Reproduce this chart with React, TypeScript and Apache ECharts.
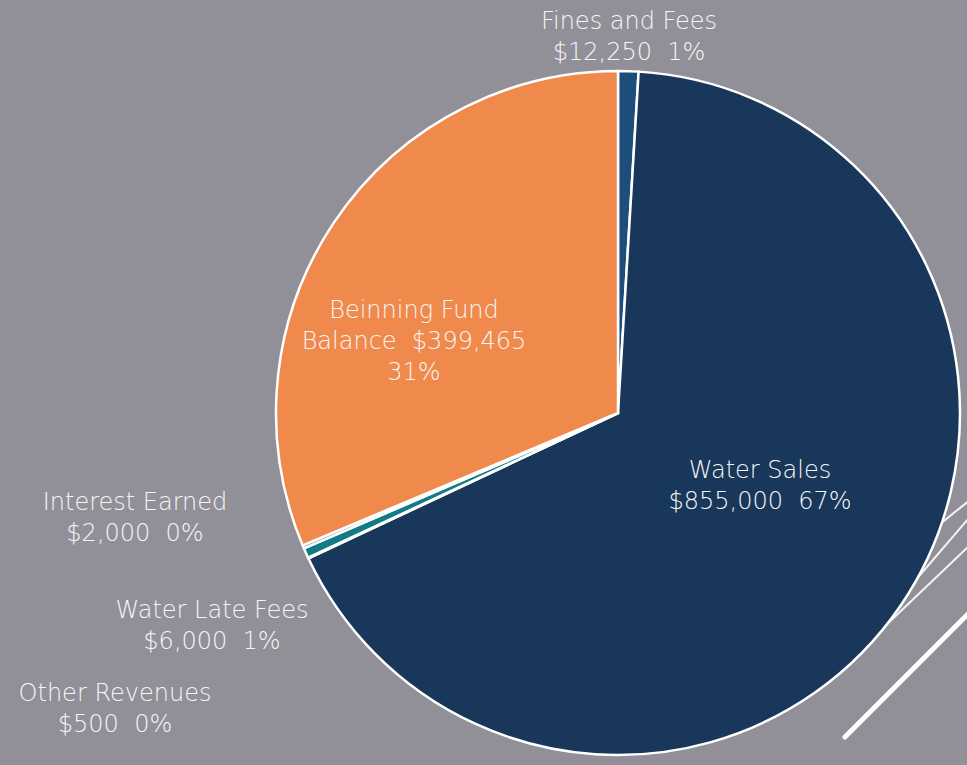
import React, { useEffect, useRef } from "react";
import * as echarts from "echarts";

const categories = [
  "Fines and Fees",
  "Water Sales",
  "Other Revenues",
  "Water Late Fees",
  "Interest Earned",
  "Beinning Fund Balance",
];
const values = [12250, 855000, 500, 6000, 2000, 399465];
const percentLabels = ["1%", "67%", "0%", "1%", "0%", "31%"];

const colors = ["#1d4d7a", "#19375a", "#4a6f8f", "#127b85", "#6e9bb0", "#f0894c"];

// label block centres (layout, not data)
const labelCenters: Record<string, [number, number]> = {
  "Fines and Fees": [629, 36],
  "Water Sales": [760, 485],
  "Other Revenues": [115, 708],
  "Water Late Fees": [212, 625],
  "Interest Earned": [135, 517],
  "Beinning Fund Balance": [414, 341],
};

function fmtMoney(v: number) {
  return "$" + v.toLocaleString("en-US");
}

function labelText(i: number) {
  const name = categories[i];
  const v = fmtMoney(values[i]);
  const p = percentLabels[i];
  if (name === "Beinning Fund Balance") {
    return "Beinning Fund\nBalance  " + v + "\n" + p;
  }
  return name + "\n" + v + "  " + p;
}

export default function App() {
  const ref = useRef<HTMLDivElement>(null);
  useEffect(() => {
    if (!ref.current) return;
    const chart = echarts.init(ref.current, undefined, { renderer: "svg" });
    chart.setOption({
      animation: false,
      backgroundColor: "#918f98",
      graphic: [
        { type: "line", z: -10, shape: { x1: 845, y1: 737, x2: 1010, y2: 572 }, style: { stroke: "#ffffff", lineWidth: 5, lineCap: "round" } },
        { type: "line", z: -10, shape: { x1: 860, y1: 650, x2: 1010, y2: 507 }, style: { stroke: "#f4f4f4", lineWidth: 2 } },
        { type: "line", z: -10, shape: { x1: 890, y1: 610, x2: 1010, y2: 470 }, style: { stroke: "#f4f4f4", lineWidth: 2 } },
        { type: "line", z: -10, shape: { x1: 920, y1: 540, x2: 1010, y2: 468 }, style: { stroke: "#f4f4f4", lineWidth: 2 } },
      ],
      series: [
        {
          type: "pie",
          center: [618, 413],
          radius: 342,
          startAngle: 90,
          clockwise: true,
          avoidLabelOverlap: false,
          color: colors,
          itemStyle: { borderColor: "#ffffff", borderWidth: 2.5 },
          labelLine: { show: false },
          label: {
            show: true,
            position: "outside",
            color: "#f6f6f6",
            fontFamily: "DejaVu Sans",
            fontWeight: 200,
            fontSize: 24,
            lineHeight: 31,
            align: "center",
            formatter: (p: any) => labelText(p.dataIndex),
          },
          labelLayout: (params: any) => {
            const name = categories[params.dataIndex];
            const c = labelCenters[name];
            return { x: c[0], y: c[1], align: "center", verticalAlign: "middle" };
          },
          emphasis: { disabled: true },
          data: categories.map((n, i) => ({ name: n, value: values[i] })),
        },
      ],
    });
    return () => chart.dispose();
  }, []);
  return (
    <div
      ref={ref}
      style={{ position: "fixed", left: 0, top: 0, width: 967, height: 765 }}
    />
  );
}
